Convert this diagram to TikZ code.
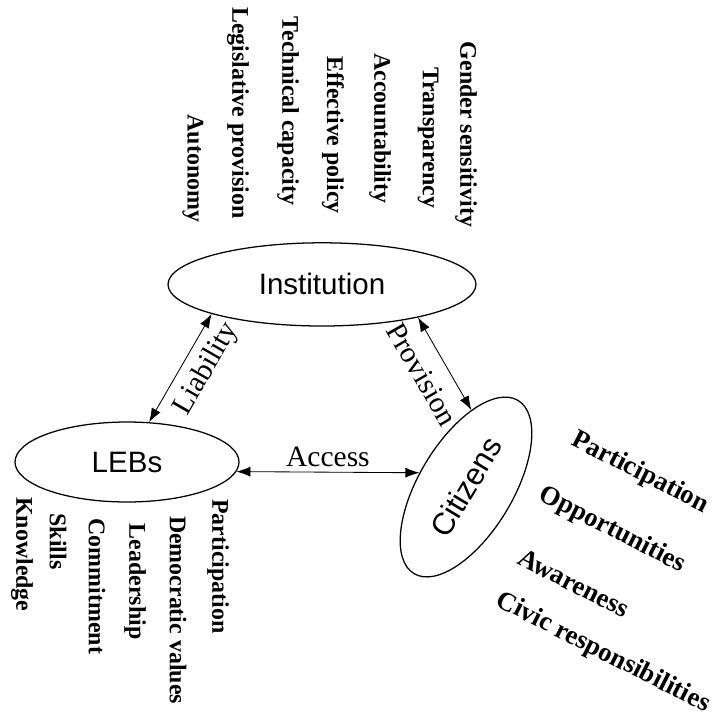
\documentclass[tikz,border=0pt]{standalone}
\usepackage{fontspec}
\setmainfont{Liberation Serif}
\setsansfont{Liberation Sans}
\usetikzlibrary{shapes.geometric,arrows.meta}

\begin{document}
\begin{tikzpicture}[
  x=1cm, y=1cm,
  % the three actors
  hub/.style={
    draw=black,
    ellipse,
    line width=0.9pt,
    inner sep=0pt,
    font=\sffamily\fontsize{21}{24}\selectfont
  },
  % vertical attribute words
  trait/.style={font=\bfseries\fontsize{17}{20}\selectfont, rotate=-90, inner sep=0pt},
  % slanted attribute words beside the citizens
  ctrait/.style={font=\bfseries\fontsize{19}{22}\selectfont, rotate=-27, inner sep=0pt},
  link/.style={{Latex[length=3.5mm,width=2.5mm]}-{Latex[length=3.5mm,width=2.5mm]}, line width=0.6pt, draw=black},
  linklabel/.style={font=\fontsize{21}{24}\selectfont, inner sep=1pt}
]

\useasboundingbox (0,0) rectangle (17.85,-17.95);

\node[hub, minimum width=7.7cm, minimum height=2.08cm] (inst) at (8.05,-7.11) {Institution};
\node[hub, minimum width=5.6cm, minimum height=2.0cm] (lebs) at (3.175,-11.55) {LEBs\hspace{1.5cm}};
\node[hub, minimum width=5.05cm, minimum height=2.35cm, rotate=59,
  font=\sffamily\fontsize{22}{25}\selectfont] (cit) at (11.65,-12.175) {Citizens};

% Institution attributes
\node[trait] (gender)  at (11.65,-3.36) {Gender sensitivity};
\node[trait] (transp)  at (10.7,-3.44)  {Transparency};
\node[trait] (account) at (9.5,-3.21)   {Accountability};
\node[trait] (policy)  at (8.325,-3.375) {Effective policy};
\node[trait] (techcap) at (7.2,-2.775)  {Technical capacity};
\node[trait] (legis)   at (5.95,-2.825) {Legislative provision};
\node[trait] (auton)   at (4.825,-4.21) {Autonomy};

% LEBs attributes
\node[trait] (knowl)  at (0.55,-13.86)  {Knowledge};
\node[trait] (skills) at (1.45,-13.54)  {Skills};
\node[trait] (commit) at (2.425,-14.66) {Commitment};
\node[trait] (leader) at (3.375,-14.54) {Leadership};
\node[trait] (democ)  at (4.45,-15.25)  {Democratic values};
\node[trait] (lpart)  at (5.45,-14.16)  {Participation};

% Citizens attributes
\node[ctrait] (cpart) at (16.0,-11.825)  {Participation};
\node[ctrait] (oppor) at (15.3,-13.25)   {Opportunities};
\node[ctrait] (aware) at (14.35,-14.575) {Awareness};
\node[ctrait] (civic) at (15.075,-16.325) {Civic responsibilities};

% Connectors
\draw[link] (lebs.61) -- node[linklabel, pos=0.6, sloped, below=2mm] (liab) {Liability} (inst.195);
\draw[link] (inst.341) -- node[linklabel, pos=0.48, sloped, below=3.3mm] (prov) {Provision} (cit.27);
\draw[link] (lebs.355) -- node[linklabel, above=0.9mm] (acc) {Access} (cit.104);

\end{tikzpicture}
\end{document}
